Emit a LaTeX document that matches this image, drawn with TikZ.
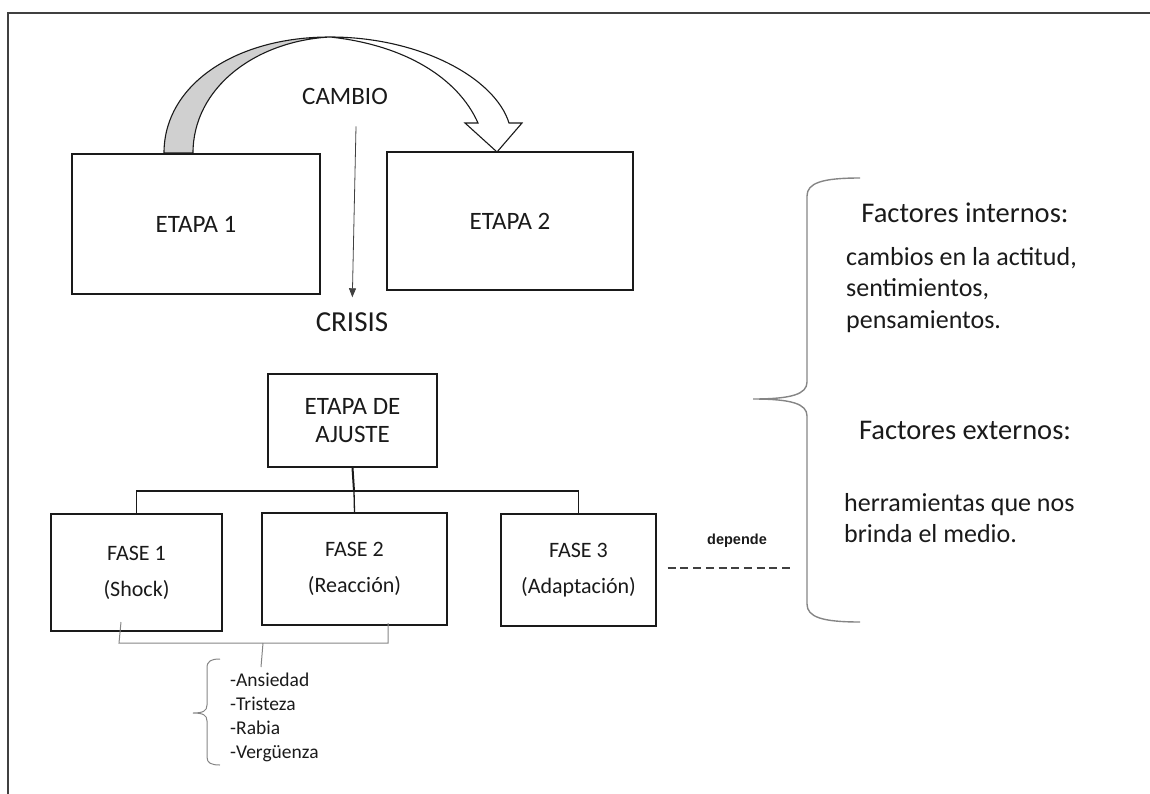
\documentclass[tikz,border=0pt]{standalone}
\usepackage{fontspec}
\setmainfont{Carlito}
\newfontfamily\dependefont{Liberation Sans}
\usetikzlibrary{arrows.meta}
\definecolor{ink}{HTML}{1A1A1A}
\definecolor{framegray}{HTML}{404040}
\definecolor{bandgray}{HTML}{D0D0D0}
\definecolor{bracegray}{HTML}{858585}
\tikzset{
  stagebox/.style={draw=ink, line width=1.4pt, align=center, inner sep=0pt,
    font=\fontsize{25}{28}\selectfont},
  phasebox/.style={stagebox, font=\fontsize{22}{36}\selectfont},
  plaintext/.style={inner sep=0pt, font=\fontsize{25}{28}\selectfont},
  bodytext/.style={inner sep=0pt, anchor=west, align=left,
    font=\fontsize{26}{31.5}\selectfont},
  titletext/.style={inner sep=0pt, font=\fontsize{28.5}{32}\selectfont},
  listtext/.style={inner sep=0pt, anchor=west, align=left,
    font=\fontsize{19.5}{24}\selectfont},
  treeline/.style={draw=ink, line width=1.3pt},
  thinarr/.style={-{Triangle[length=9pt,width=7pt]}, line width=0.8pt, draw=framegray},
  bracket/.style={draw=bracegray, line width=1pt},
  bigbrace/.style={draw=bracegray, line width=1.4pt},
  dependeline/.style={draw=framegray, line width=1.6pt, dash pattern=on 8pt off 4.7pt}
}
\begin{document}
\begin{tikzpicture}[x=1pt, y=-1pt, color=ink]
  \useasboundingbox (0,0) rectangle (1150,794);
  \draw[framegray, line width=1.5pt] (1150,13) -- (8,13) -- (8,794);

  % etapas y cambio
  \node[stagebox, minimum width=248pt, minimum height=140pt] (etapa1) at (196,224) {ETAPA 1};
  \node[stagebox, minimum width=246pt, minimum height=138pt] (etapa2) at (510,221) {ETAPA 2};
  \filldraw[fill=bandgray, draw=ink, line width=1.1pt] (164,153)
    .. controls (164,85) and (235,37) .. (330,37)
    .. controls (255,41) and (193,88) .. (193,153) -- cycle;
  \filldraw[fill=white, draw=ink, line width=1.1pt] (330,37)
    .. controls (420,37) and (495,78) .. (509,123) -- (522,123) -- (497,152)
    -- (465,123) -- (478,123) .. controls (458,78) and (405,45) .. (330,37) -- cycle;
  \node[plaintext] (cambio) at (345,96) {CAMBIO};
  \node[plaintext, font=\fontsize{29}{32}\selectfont] (crisis) at (352,322) {CRISIS};
  \draw[thinarr, shorten >=15pt] ([xshift=11pt,yshift=-22pt]cambio.south) -- (crisis.north);

  % etapa de ajuste y fases
  \node[stagebox, minimum width=169pt, minimum height=93pt] (ajuste) at (352.5,420.5) {ETAPA DE\\AJUSTE};
  \node[phasebox, minimum width=171pt, minimum height=117pt] (fase1) at (136.5,572.5) {FASE 1\\(Shock)};
  \node[phasebox, minimum width=185pt, minimum height=112pt] (fase2) at (354.5,569) {FASE 2\\(Reacción)};
  \node[phasebox, minimum width=155pt, minimum height=112pt] (fase3) at (578.5,570) {FASE 3\\(Adaptación)};
  \coordinate (bus) at (354,491);
  \draw[treeline, line width=2pt] (ajuste.south) -- (bus);
  \draw[treeline] (fase1.north) |- (bus) -| (fase3.north);
  \draw[treeline] (bus) -- (fase2.north);

  % emociones
  \coordinate (emo) at (261,667);
  \draw[bracket] (121,622) -- (119,643) -- (388,643) -- (388,623);
  \draw[bracket] (263,643) -- (emo);
  \draw[bracket] (220,659) .. controls (211,659) and (207,661) .. (207,668) -- (207,705)
    .. controls (207,711) and (203,713) .. (193,713)
    .. controls (203,713) and (207,715) .. (207,721) -- (207,757)
    .. controls (207,763) and (211,765) .. (220,765);
  \node[listtext] (emociones) at (230,717) {-Ansiedad\\-Tristeza\\-Rabia\\-Vergüenza};

  % factores
  \node[inner sep=0pt, font=\dependefont\bfseries\fontsize{14.5}{16}\selectfont] (depende) at (737,541) {depende};
  \draw[dependeline] ([xshift=11pt,yshift=2pt]fase3.east) -- ++(122,0);
  \draw[bigbrace] (860,178) .. controls (822,178) and (807,183) .. (807,196) -- (807,382)
    .. controls (807,394) and (792,399) .. (753,399)
    .. controls (792,399) and (807,404) .. (807,416) -- (807,604)
    .. controls (807,617) and (822,622) .. (860,622);
  \node[titletext] (internos) at (965,213) {Factores internos:};
  \node[bodytext] (internostxt) at (846,290) {cambios en la actitud,\\sentimientos,\\pensamientos.};
  \node[titletext] (externos) at (965,430) {Factores externos:};
  \node[bodytext] (externostxt) at (844,518) {herramientas que nos\\brinda el medio.};
\end{tikzpicture}
\end{document}
